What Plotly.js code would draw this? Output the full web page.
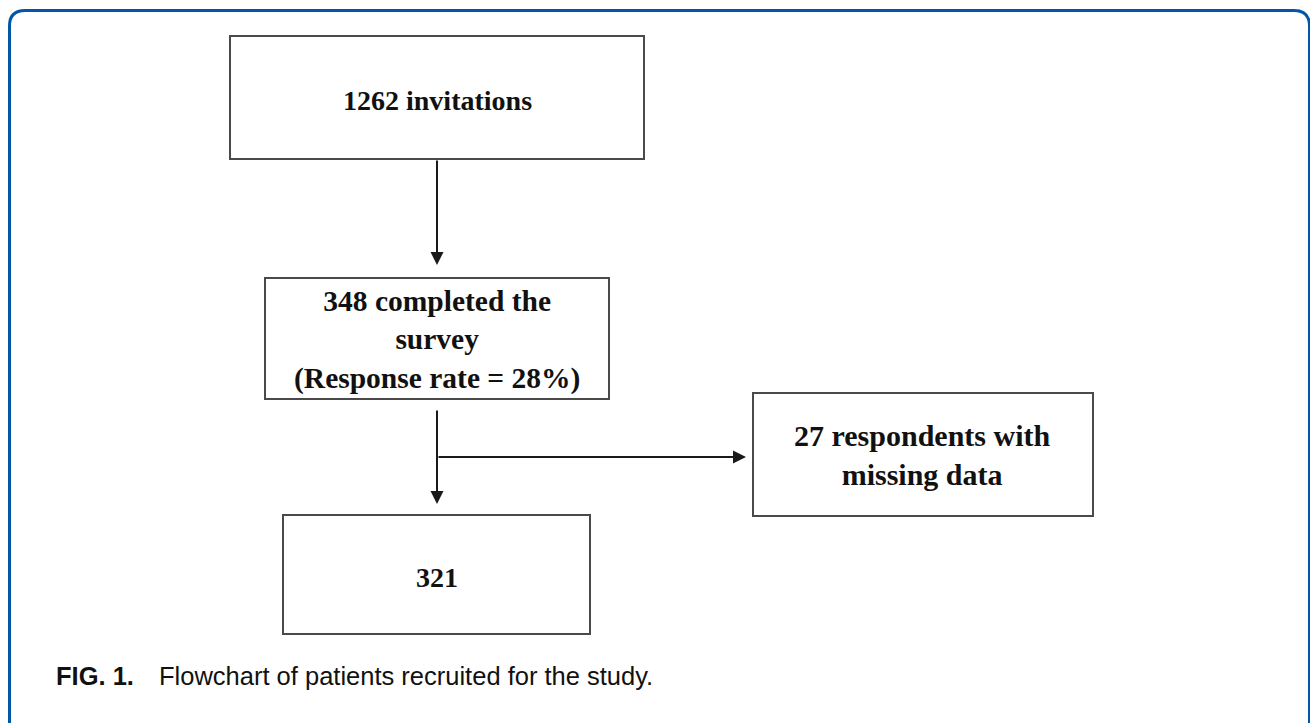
<!DOCTYPE html>
<html>
<head>
<meta charset="utf-8">
<script src="https://cdn.plot.ly/plotly-3.0.1.min.js"></script>
<style>html,body{margin:0;padding:0;background:#fff;}#chart{width:1310px;height:723px;}</style>
</head>
<body>
<div id="chart"></div>
<script>
// ---- data (flowchart content) ----
const stepLabels = [
  "1262 invitations",
  "348 completed the<br>survey<br>(Response rate = 28%)",
  "27 respondents with<br>missing data",
  "321"
];
const stepCounts = [1262, 348, 27, 321];
const captionBold = "FIG. 1.";
const captionText = "Flowchart of patients recruited for the study.";

// ---- geometry (pixel-space layout, axes map 1:1 to pixels) ----
const boxes = [
  {x0: 230, x1: 644, y0: 36,  y1: 159, cx: 437, cy: 100, fs: 28},
  {x0: 265, x1: 609, y0: 278, y1: 399, cx: 437, cy: 340, fs: 29.5},
  {x0: 753, x1: 1093, y0: 393, y1: 516, cx: 922, cy: 455, fs: 30},
  {x0: 283, x1: 590, y0: 515, y1: 634, cx: 437, cy: 577, fs: 28}
];
const arrows = [
  {x: 437, y: 265, ax: 437, ay: 159},
  {x: 437, y: 504, ax: 437, ay: 409},
  {x: 746, y: 457, ax: 437, ay: 457}
];

const shapes = [];
boxes.forEach(b => shapes.push({
  type: 'rect', xref: 'x', yref: 'y', x0: b.x0, x1: b.x1, y0: b.y0, y1: b.y1,
  line: {color: '#4a4a4a', width: 2}, fillcolor: 'rgba(0,0,0,0)'
}));
// blue frame with rounded corners
shapes.push({
  type: 'path', xref: 'x', yref: 'y',
  path: 'M 9.5,740 L 9.5,26 Q 9.5,10.5 25,10.5 L 1294,10.5 Q 1309.5,10.5 1309.5,26 L 1309.5,740',
  line: {color: '#0057a6', width: 3}
});

const annotations = [];
stepLabels.forEach((t, i) => annotations.push({
  x: boxes[i].cx, y: boxes[i].cy, xref: 'x', yref: 'y', text: '<b>' + t + '</b>',
  showarrow: false, align: 'center', xanchor: 'center', yanchor: 'middle',
  font: {family: 'Liberation Serif, Times New Roman, serif', size: boxes[i].fs, color: '#111'}
}));
arrows.forEach(a => annotations.push({
  x: a.x, y: a.y, ax: a.ax, ay: a.ay, xref: 'x', yref: 'y', axref: 'x', ayref: 'y',
  text: '', showarrow: true, arrowhead: 2, arrowsize: 1.3, arrowwidth: 2,
  arrowcolor: '#1a1a1a', standoff: 0, startstandoff: 0
}));
annotations.push({
  x: 54, y: 676, xref: 'x', yref: 'y', xanchor: 'left', yanchor: 'middle',
  text: '<b>' + captionBold + '</b>', showarrow: false,
  font: {family: 'Liberation Sans, Arial, sans-serif', size: 25.5, color: '#111'}
});
annotations.push({
  x: 157, y: 676, xref: 'x', yref: 'y', xanchor: 'left', yanchor: 'middle',
  text: captionText, showarrow: false,
  font: {family: 'Liberation Sans, Arial, sans-serif', size: 25.5, color: '#111'}
});

const layout = {
  width: 1310, height: 723,
  margin: {l: 0, r: 0, t: 0, b: 0},
  paper_bgcolor: '#fff', plot_bgcolor: '#fff',
  xaxis: {range: [0, 1310], visible: false, fixedrange: true},
  yaxis: {range: [723, 0], visible: false, fixedrange: true},
  showlegend: false,
  shapes: shapes,
  annotations: annotations
};

Plotly.newPlot('chart', [{x: [], y: [], type: 'scatter', mode: 'markers', customdata: stepCounts}], layout, {displayModeBar: false, staticPlot: true});
</script>
</body>
</html>
